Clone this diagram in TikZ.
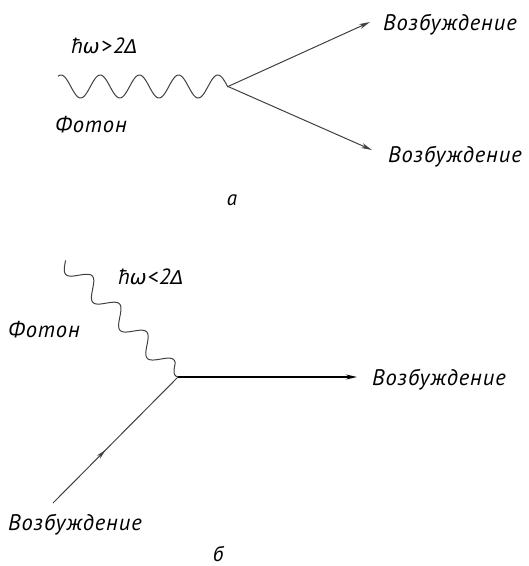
\documentclass[tikz,border=0pt]{standalone}
\usepackage{fontspec}
\setmainfont{PT Sans}
\newfontfamily\spacedfont[LetterSpace=4]{PT Sans}
\newfontfamily\greekfont{DejaVu Sans}
\usetikzlibrary{arrows.meta,decorations.markings}

\tikzset{
  lbl/.style={inner sep=0pt, anchor=base west, font=\spacedfont\fontsize{22.5}{26}\selectfont\itshape},
  formula/.style={inner sep=0pt, anchor=base west, font=\spacedfont\fontsize{22}{24}\selectfont\itshape},
  caption/.style={inner sep=0pt, anchor=base, font=\fontsize{21}{24}\selectfont\itshape},
  photon/.style={line width=1pt, black!75, line join=round},
  quasi/.style={line width=1pt, black!75, -{Stealth[length=11pt,width=5pt]}},
  midarrow/.style={postaction={decorate}, decoration={markings,
      mark=at position #1 with {\arrow{Stealth[length=10pt,width=4.5pt]}}}}
}
\newcommand{\gw}{{\greekfont\fontsize{20}{24}\selectfont\itshape ω}}
\newcommand{\gD}{{\greekfont\fontsize{19}{24}\selectfont\itshape Δ}}

\begin{document}
\begin{tikzpicture}[x=1pt,y=-1pt]
  \useasboundingbox (0,0) rectangle (529,566);

  % ---------- (а): photon splits into two excitations ----------
  \coordinate (va) at (228,86.5);
  \draw[photon] plot[domain=58:228, samples=200, smooth]
      (\x, {86.5 - 11.5*cos(9.1837*(\x-61))});
  \coordinate (ua) at (370,22);
  \coordinate (da) at (372,150);
  \draw[quasi] (va) -- (ua);
  \draw[quasi] (va) -- (da);

  \node[formula] (ea) at (71,53) {ħ\gw\kern1.5pt>\kern1.5pt2\gD};
  \node[lbl] (pa) at (55,132) {Фотон};
  \node[lbl] (qa1) at (383,30) {Возбуждение};
  \node[lbl] (qa2) at (388,162) {Возбуждение};
  \node[caption] (ca) at (232,205) {а};

  % ---------- (б): photon absorbed by an existing excitation ----------
  \coordinate (vb) at (178,377);
  \draw[photon] plot[domain=162:2, samples=220, smooth]
      ({178 - 0.697*\x - 6.45*min(1,\x/12)*sin(9.2308*(\x-25))},
       {377 - 0.717*\x + 6.27*min(1,\x/12)*sin(9.2308*(\x-25))})
      -- (vb);
  \coordinate (rb) at (357,377);
  \coordinate (lb) at (53,503);
  \draw[quasi, black, line width=1.3pt] (vb) -- (rb);
  \draw[line width=1pt, black!75, midarrow=0.42] (lb) -- (vb);

  \node[formula] (eb) at (118,284) {ħ\gw\kern1pt<\kern1pt2\gD};
  \node[lbl] (pb) at (8,337) {Фотон};
  \node[lbl] (qb1) at (372,385) {Возбуждение};
  \node[lbl] (qb2) at (8,530) {Возбуждение};
  \node[caption] (cb) at (218,561) {б};
\end{tikzpicture}
\end{document}
